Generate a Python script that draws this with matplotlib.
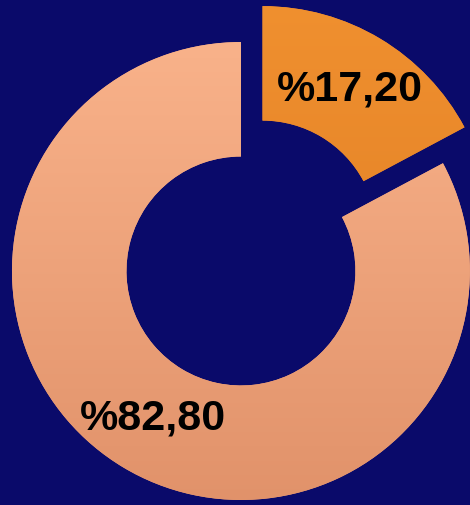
import matplotlib
matplotlib.use("Agg")
import matplotlib.pyplot as plt
import numpy as np
from matplotlib.colors import LinearSegmentedColormap

labels = ["A", "B"]
values = [17.20, 82.80]
colors = ["#e8862e", "#f3a57b"]
grad_colors = [("#f0902f", "#dc7a22"), ("#fbb58d", "#e1926a")]
explode = [0.183, 0.0]

fig = plt.figure(figsize=(4.70, 5.06), dpi=100)
bg = "#0a0a6a"
fig.patch.set_facecolor(bg)
ax = fig.add_axes([0, 0, 1, 1])
ax.set_facecolor(bg)

def fmt(p):
    return "%" + f"{p:.2f}".replace(".", ",")

wedges, texts, autotexts = ax.pie(
    values, colors=colors, explode=explode, startangle=90, counterclock=False,
    radius=1.0, wedgeprops=dict(width=0.5, edgecolor="none"),
    autopct=fmt, pctdistance=0.745,
    textprops=dict(color="black", fontsize=31, fontweight="bold", family="Liberation Sans"),
)
xlim = (-1.052, 1.0)
ylim = (-1.022, 1.188)
grad = np.linspace(0, 1, 256).reshape(-1, 1)
for w, (c1, c2) in zip(wedges, grad_colors):
    cmap = LinearSegmentedColormap.from_list("g", [c1, c2])
    im = ax.imshow(grad, cmap=cmap, extent=(xlim[0], xlim[1], ylim[0], ylim[1]),
                   origin="upper", aspect="auto", zorder=w.get_zorder() + 0.1)
    im.set_clip_path(w)
for t in autotexts:
    t.set_zorder(5)
ax.set_xlim(*xlim)
ax.set_ylim(*ylim)
ax.set_aspect("equal")
ax.axis("off")
fig.savefig("out.png", dpi=100, facecolor=fig.get_facecolor())
